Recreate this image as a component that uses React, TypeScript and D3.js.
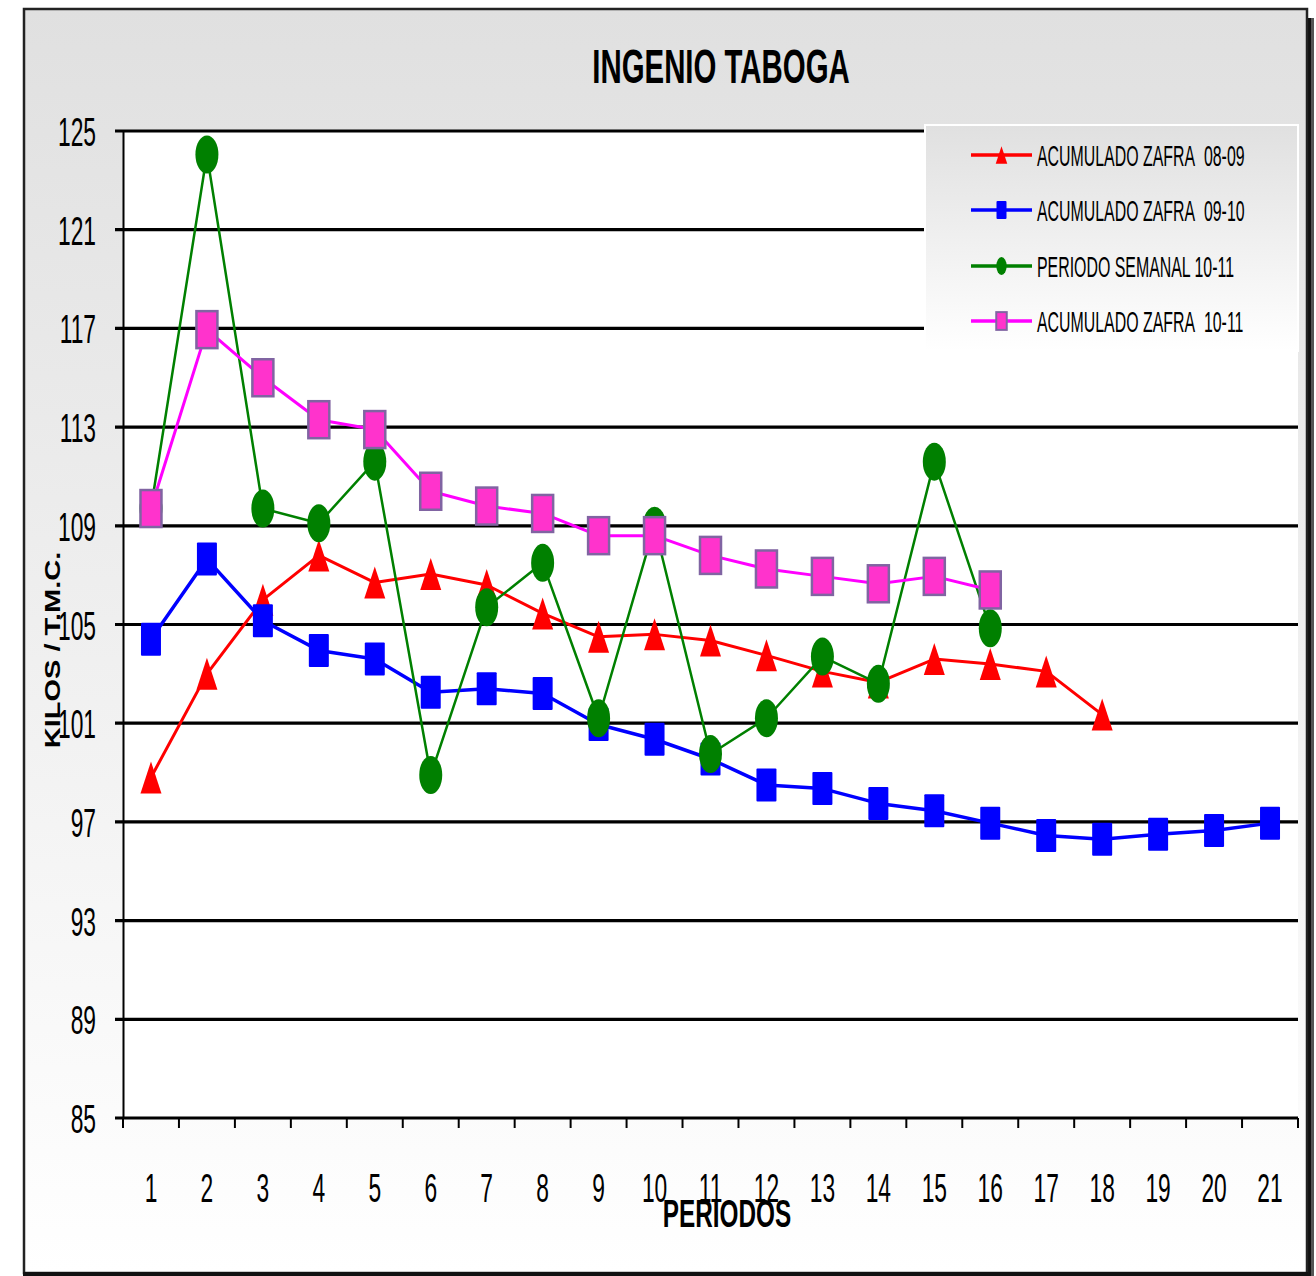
import React from "react";
import * as d3 from "d3";

const periods = d3.range(1, 22);
const yTicks = [85, 89, 93, 97, 101, 105, 109, 113, 117, 121, 125];

const zafra0809 = [98.8, 103.0, 106.0, 107.8, 106.7, 107.05, 106.6, 105.45, 104.5, 104.6, 104.35, 103.75, 103.1, 102.65, 103.6, 103.4, 103.1, 101.35];
const zafra0910 = [104.4, 107.65, 105.15, 103.95, 103.6, 102.25, 102.4, 102.2, 100.95, 100.35, 99.55, 98.5, 98.35, 97.75, 97.45, 96.95, 96.45, 96.3, 96.5, 96.65, 96.95];
const semanal1011 = [109.7, 124.05, 109.7, 109.1, 111.6, 98.9, 105.7, 107.5, 101.2, 109.0, 99.75, 101.2, 103.7, 102.6, 111.6, 104.85];
const zafra1011 = [109.7, 116.95, 115.0, 113.3, 112.9, 110.4, 109.8, 109.5, 108.6, 108.6, 107.8, 107.25, 106.95, 106.65, 106.95, 106.4];

const legendLabels = ["ACUMULADO ZAFRA\u00a0 08-09", "ACUMULADO ZAFRA\u00a0 09-10", "PERIODO SEMANAL 10-11", "ACUMULADO ZAFRA\u00a0 10-11"];

const W = 1316;
const H = 1276;
const FONT = "'Liberation Sans', Arial, sans-serif";

const x = d3.scaleBand<number>().domain(periods).range([123, 1298]).padding(0);
const y = d3.scaleLinear().domain([85, 125]).range([1118, 131]);
const cx = (p: number) => (x(p) as number) + x.bandwidth() / 2;

type Pt = { p: number; v: number };
const toPts = (arr: number[]): Pt[] => arr.map((v, i) => ({ p: i + 1, v }));

const line = d3
  .line<Pt>()
  .x((d) => cx(d.p))
  .y((d) => y(d.v));

function T(props: {
  x: number;
  y: number;
  size: number;
  sx: number;
  anchor?: string;
  weight?: string | number;
  children: React.ReactNode;
}) {
  const { x: tx, y: ty, size, sx, anchor = "start", weight = "normal", children } = props;
  return (
    <text
      transform={`translate(${tx},${ty}) scale(${sx},1)`}
      textAnchor={anchor}
      fontFamily={FONT}
      fontSize={size}
      fontWeight={weight}
      fill="#000"
      xmlSpace="preserve"
      style={{ whiteSpace: "pre" }}
    >
      {children}
    </text>
  );
}

const tri = (x0: number, y0: number, hw: number, hh: number) =>
  `M${x0},${y0 - hh}L${x0 + hw},${y0 + hh}L${x0 - hw},${y0 + hh}Z`;

function Marker({ kind, x0, y0, small }: { kind: number; x0: number; y0: number; small?: boolean }) {
  const k = small ? 0.5 : 1;
  if (kind === 0) return <path d={tri(x0, y0, 10.5 * (small ? 0.55 : 1), 16 * (small ? 0.55 : 1))} fill="#ff0000" />;
  if (kind === 1)
    return <rect x={x0 - 10 * k} y={y0 - 16.5 * (small ? 0.55 : 1)} width={20 * k} height={33 * (small ? 0.55 : 1)} fill="#0000ff" rx={1} />;
  if (kind === 2) return <ellipse cx={x0} cy={y0} rx={11.5 * (small ? 0.45 : 1)} ry={19 * (small ? 0.47 : 1)} fill="#008000" />;
  return (
    <rect
      x={x0 - 10.5 * k}
      y={y0 - 18.5 * (small ? 0.48 : 1)}
      width={21 * k}
      height={37 * (small ? 0.48 : 1)}
      fill="#ff33cc"
      stroke="#8064a2"
      strokeWidth={small ? 2 : 2.5}
    />
  );
}

const seriesList = [
  { data: zafra0809, color: "#ff0000", width: 3, kind: 0 },
  { data: zafra0910, color: "#0000ff", width: 3.5, kind: 1 },
  { data: semanal1011, color: "#008000", width: 2.5, kind: 2 },
  { data: zafra1011, color: "#ff00ff", width: 3, kind: 3 },
];

export default function App() {
  const legendRowsY = [155, 210, 266, 321];
  return (
    <svg width={W} height={H} style={{ position: "absolute", left: 0, top: 0, display: "block" }}>
      <defs>
        <linearGradient id="bg" x1="0" y1="0" x2="0" y2="1">
          <stop offset="0" stopColor="#e0e0e0" />
          <stop offset="1" stopColor="#ffffff" />
        </linearGradient>
        <linearGradient id="lg" x1="0" y1="0" x2="0" y2="1">
          <stop offset="0" stopColor="#e0e0e0" />
          <stop offset="1" stopColor="#ffffff" />
        </linearGradient>
      </defs>
      <rect x={0} y={0} width={W} height={H} fill="#ffffff" />
      {/* outer frame shadow */}
      <rect x={1306} y={18} width={7} height={1258} fill="#111" />
      <rect x={1311} y={18} width={3} height={1258} fill="#555" />
      {/* chart area */}
      <rect x={24} y={9} width={1283} height={1264} fill="url(#bg)" stroke="#222" strokeWidth={2.5} />
      <rect x={23} y={1272} width={1285} height={4} fill="#111" />
      {/* plot area */}
      <rect x={123} y={131} width={1175} height={987} fill="#ffffff" />

      {/* title */}
      <T x={721} y={83} size={49} sx={0.6} anchor="middle" weight="bold">
        INGENIO TABOGA
      </T>

      {/* gridlines + y ticks */}
      {yTicks.map((t) => (
        <g key={t}>
          <line x1={115} x2={1298} y1={y(t)} y2={y(t)} stroke="#000" strokeWidth={3.2} />
          <T x={96} y={y(t) + 15} size={40} sx={0.57} anchor="end">
            {String(t)}
          </T>
        </g>
      ))}
      {/* y axis line */}
      <line x1={123.5} x2={123.5} y1={131} y2={1118} stroke="#000" strokeWidth={2} />
      {/* x ticks */}
      {[...periods.map((p) => x(p) as number), 1298].map((tx, i) => (
        <line key={i} x1={tx} x2={tx} y1={1118} y2={1128} stroke="#000" strokeWidth={2} />
      ))}
      {periods.map((p) => (
        <T key={p} x={cx(p)} y={1202} size={40} sx={0.57} anchor="middle">
          {String(p)}
        </T>
      ))}

      {/* axis titles */}
      <T x={727} y={1227} size={38} sx={0.64} anchor="middle" weight="bold">
        PERIODOS
      </T>
      <text
        transform="translate(60,650) rotate(-90) scale(1,0.78)"
        textAnchor="middle"
        fontFamily={FONT}
        fontSize={29}
        fontWeight="bold"
        fill="#000"
      >
        KILOS / T.M.C.
      </text>

      {/* series */}
      {seriesList.map((s, si) => {
        const pts = toPts(s.data);
        return (
          <g key={si}>
            <path d={line(pts) || ""} fill="none" stroke={s.color} strokeWidth={s.width} strokeLinejoin="round" />
            {pts.map((d) => (
              <Marker key={d.p} kind={s.kind} x0={cx(d.p)} y0={y(d.v)} />
            ))}
          </g>
        );
      })}

      {/* legend */}
      <rect x={925} y={125} width={373} height={226} fill="url(#lg)" stroke="#ffffff" strokeWidth={2} />
      {seriesList.map((s, i) => (
        <g key={i}>
          <line x1={971} x2={1032} y1={legendRowsY[i]} y2={legendRowsY[i]} stroke={s.color} strokeWidth={3.5} />
          <Marker kind={s.kind} x0={1001.5} y0={legendRowsY[i]} small />
          <T x={1037} y={legendRowsY[i] + 11} size={30} sx={0.53}>
            {legendLabels[i]}
          </T>
        </g>
      ))}
    </svg>
  );
}
